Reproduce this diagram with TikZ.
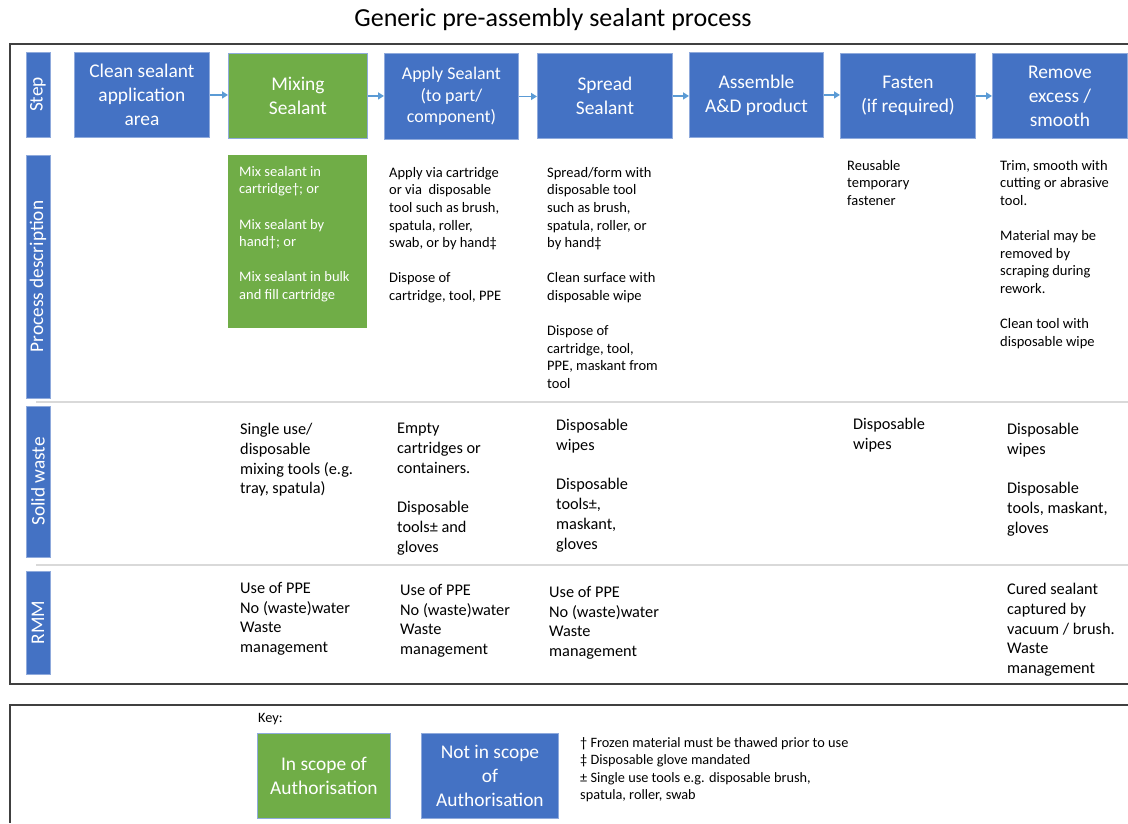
\documentclass[tikz,border=0pt]{standalone}
\usepackage{fontspec}
\setmainfont{Carlito}
\usetikzlibrary{arrows.meta}
\definecolor{stepblue}{HTML}{4472C4}
\definecolor{stepgreen}{HTML}{70AD47}
\definecolor{boxedge}{HTML}{8FAADC}
\definecolor{flowarrow}{HTML}{5B9BD5}
\definecolor{frameline}{HTML}{404040}
\definecolor{lanerule}{HTML}{D9D9D9}
\newcommand\fsz[2]{\fontsize{#1}{#2}\selectfont}

\begin{document}
\begin{tikzpicture}[x=1pt,y=-1pt,
  stepbox/.style={draw=boxedge, line width=0.9pt, fill=stepblue, text=white,
    align=center, inner sep=0pt, anchor=north west, font=\fsz{19.4}{24}},
  inscope/.style={stepbox, fill=stepgreen},
  lane/.style={fill=stepblue, draw=boxedge, line width=0.8pt, text=white,
    rotate=90, inner sep=0pt, minimum height=24pt, font=\fsz{19.3}{23}},
  desc/.style={anchor=north west, inner sep=0pt, align=left, font=\fsz{14.5}{17.6}},
  waste/.style={desc, font=\fsz{16.3}{19.8}},
  note/.style={desc, font=\fsz{14.3}{17.6}},
  flow/.style={-{Triangle[length=6pt,width=7pt]}, line width=1.8pt, draw=flowarrow},
  frame/.style={draw=frameline, line width=1.4pt},
  sep/.style={draw=lanerule, line width=1.5pt}]

\useasboundingbox (0,0) rectangle (1128,823);

% title
\node[font=\fsz{26}{30}] (title) at (553,20) {Generic pre-assembly sealant process};

% outer frames (open on the right)
\draw[frame] (1128,44) -- (10,44) -- (10,684) -- (1128,684);
\draw[frame] (1128,705) -- (10,705) -- (10,823);

% lane separators
\draw[sep] (36,402) -- (1128,402);
\draw[sep] (36,565) -- (1128,565);

% lane labels
\node[lane, minimum width=85pt]  (lstep)  at (38,94.5) {Step};
\node[lane, minimum width=243pt] (lproc)  at (38,276.5) {Process description};
\node[lane, minimum width=151pt] (lwaste) at (38,481.5) {Solid waste};
\node[lane, minimum width=103pt] (lrmm)   at (38,622.5) {RMM};

% process steps
\node[stepbox, minimum width=135pt, minimum height=85pt] (s1) at (74,52)
  {Clean sealant\\application\\area};
\node[inscope, minimum width=139pt, minimum height=85pt] (s2) at (228,53)
  {Mixing\\Sealant};
\node[stepbox, minimum width=134pt, minimum height=86pt, font=\fsz{17.9}{21.5}] (s3) at (384,53)
  {Apply Sealant\\(to part/\\component)};
\node[stepbox, minimum width=135pt, minimum height=85pt] (s4) at (537,53)
  {Spread\\Sealant};
\node[stepbox, minimum width=134pt, minimum height=85pt] (s5) at (689,52)
  {Assemble\\A\&D product};
\node[stepbox, minimum width=135pt, minimum height=85pt] (s6) at (840,53)
  {Fasten\\(if required)};
\node[stepbox, minimum width=135pt, minimum height=85pt] (s7) at (992,53)
  {Remove\\excess /\\smooth};

% flow arrows
\draw[flow] (s1.east) -- (s1.east -| s2.west);
\draw[flow] (s2.east) -- (s2.east -| s3.west);
\draw[flow] (s3.east) -- (s3.east -| s4.west);
\draw[flow] (s4.east) -- (s4.east -| s5.west);
\draw[flow] (s5.east) -- (s5.east -| s6.west);
\draw[flow] (s6.east) -- (s6.east -| s7.west);

% process description
\node[fill=stepgreen, anchor=north west, inner sep=0pt, minimum width=139pt, minimum height=173pt] (pmixbg) at (228,155) {};
\node[desc, text=white] (pmix) at (239,166)
  {Mix sealant in\\cartridge†; or\\[17.6pt]Mix sealant by\\hand†; or\\[17.6pt]Mix sealant in bulk\\and fill cartridge};
\node[desc] (papply) at (389,167)
  {Apply via cartridge\\or via\ \ disposable\\tool such as brush,\\spatula, roller,\\swab, or by hand‡\\[17.6pt]Dispose of\\cartridge, tool, PPE};
\node[desc] (pspread) at (547,167)
  {Spread/form with\\disposable tool\\such as brush,\\spatula, roller, or\\by hand‡\\[17.6pt]Clean surface with\\disposable wipe\\[17.6pt]Dispose of\\cartridge, tool,\\PPE, maskant from\\tool};
\node[desc] (pfasten) at (847,160)
  {Reusable\\temporary\\fastener};
\node[desc] (premove) at (1000,160)
  {Trim, smooth with\\cutting or abrasive\\tool.\\[17.6pt]Material may be\\removed by\\scraping during\\rework.\\[17.6pt]Clean tool with\\disposable wipe};

% solid waste
\node[waste] (wmix) at (240,423)
  {Single use/\\disposable\\mixing tools (e.g.\\tray, spatula)};
\node[waste] (wapply) at (397,423)
  {Empty\\cartridges or\\containers.\\[19.8pt]Disposable\\tools± and\\gloves};
\node[waste] (wspread) at (556,419)
  {Disposable\\wipes\\[19.8pt]Disposable\\tools±,\\maskant,\\gloves};
\node[waste] (wfasten) at (853,418)
  {Disposable\\wipes};
\node[waste] (wremove) at (1007,423)
  {Disposable\\wipes\\[19.8pt]Disposable\\tools, maskant,\\gloves};

% risk management measures
\node[waste] (rmix) at (240,582)
  {Use of PPE\\No (waste)water\\Waste\\management};
\node[waste] (rapply) at (400,584)
  {Use of PPE\\No (waste)water\\Waste\\management};
\node[waste] (rspread) at (549,586)
  {Use of PPE\\No (waste)water\\Waste\\management};
\node[waste] (rremove) at (1007,583)
  {Cured sealant\\captured by\\vacuum / brush.\\Waste\\management};

% key
\node[note] (keylabel) at (258,713) {Key:};
\node[inscope, minimum width=133pt, minimum height=85pt] (kin) at (257,733)
  {In scope of\\Authorisation};
\node[stepbox, minimum width=137pt, minimum height=85pt] (kout) at (421,733)
  {Not in scope\\of\\Authorisation};
\node[note] (notes) at (580,737)
  {† Frozen material must be thawed prior to use\\‡ Disposable glove mandated\\± Single use tools e.g. disposable brush,\\spatula, roller, swab};
\end{tikzpicture}
\end{document}
